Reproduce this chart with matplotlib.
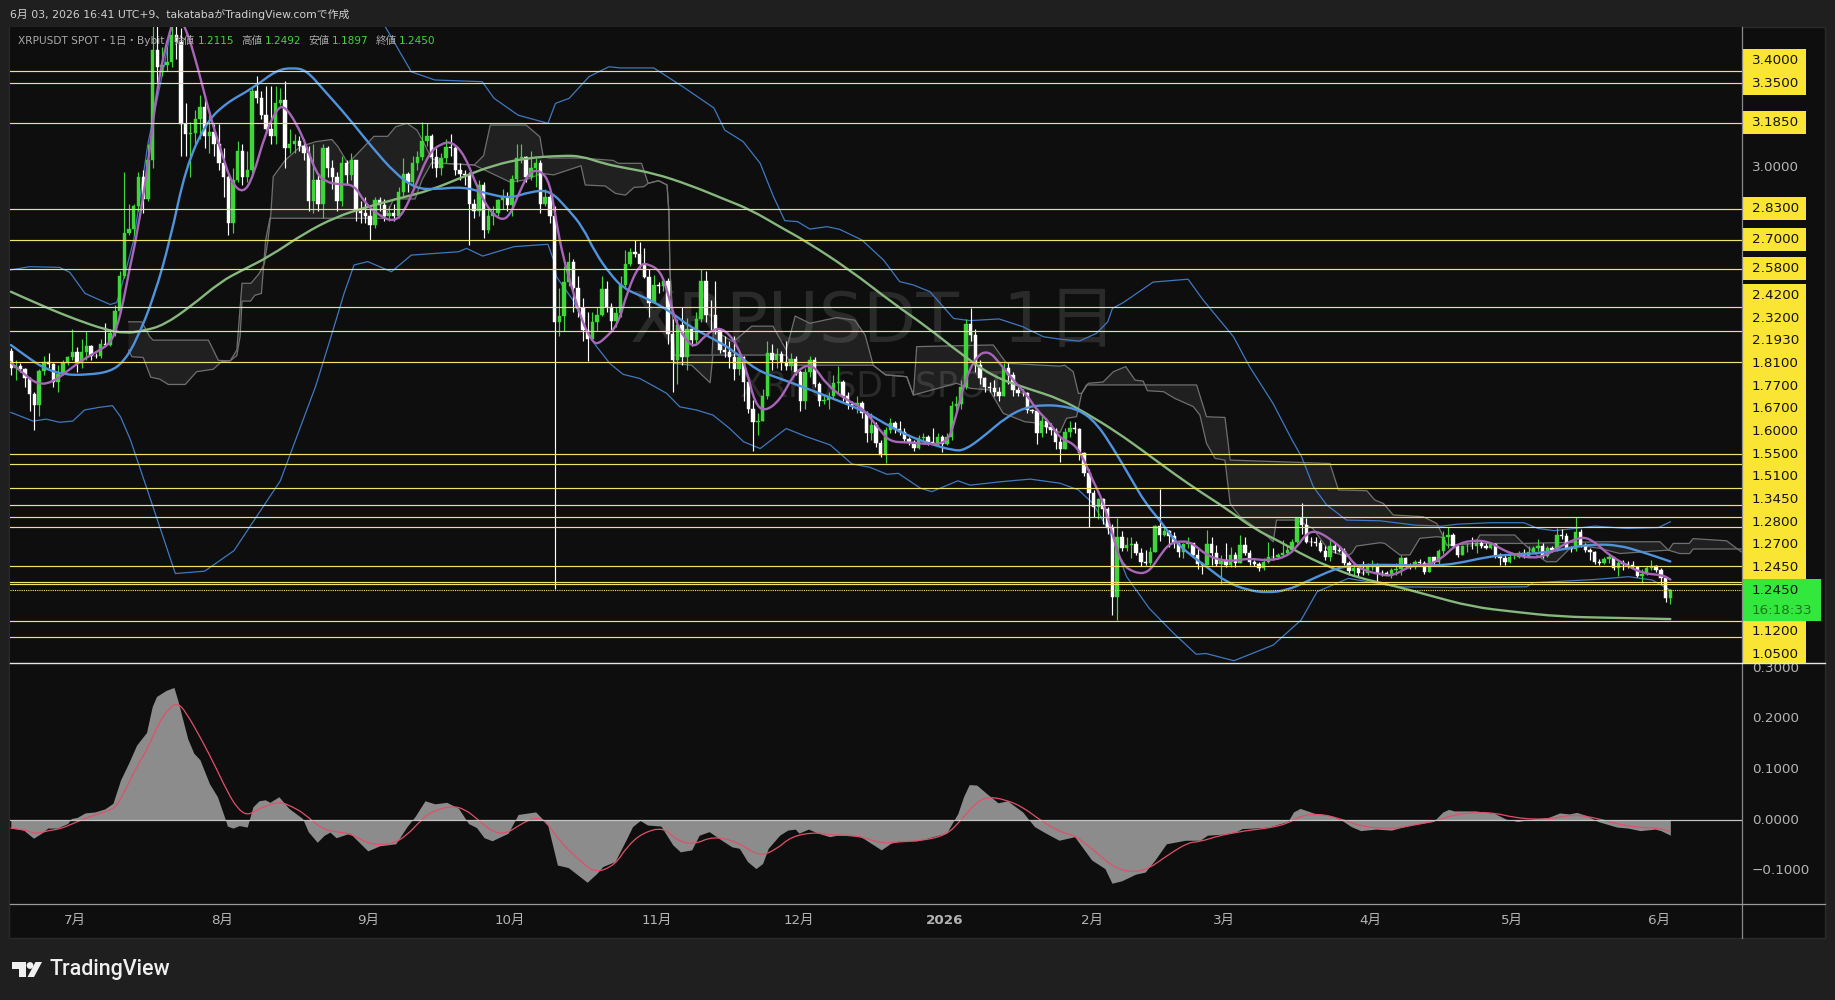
#!/usr/bin/env python3

import numpy as np
import matplotlib
matplotlib.use("Agg")
import matplotlib.pyplot as plt
from matplotlib.patches import Rectangle, Polygon, Circle, PathPatch
from matplotlib.path import Path

FONT = ["DejaVu Sans", "Noto Sans CJK JP"]
plt.rcParams["font.family"] = FONT

# daily candles, day 0 = 1 Jul 2025
first_day = -14
first_open = 2.24
closes = [
    2.17,2.175,2.165,2.125,2.06,2.015,2.155,2.195,2.185,2.11,2.145,2.19,2.215,2.235,
    2.19,2.235,2.26,2.22,2.218,2.27,2.265,2.315,2.405,2.55,2.73,2.745,2.84,2.96,2.87,3.03,3.49,3.42,3.425,3.44,3.55,3.52,3.18,3.14,3.145,3.20,3.25,3.13,3.15,3.10,3.02,
    2.96,2.77,2.95,3.07,2.96,2.99,3.32,3.29,3.22,3.16,3.13,3.27,3.28,3.08,3.10,3.11,3.09,3.06,2.86,2.95,2.85,3.08,3.00,2.96,2.86,3.02,2.97,3.03,2.82,2.81,2.80,
    2.76,2.865,2.845,2.80,2.81,2.80,2.90,2.975,2.94,3.02,3.045,3.11,3.13,3.045,2.997,3.04,3.087,3.08,2.99,2.975,2.97,2.85,2.82,2.93,2.74,2.80,2.81,2.865,2.88,2.845,
    2.955,3.04,3.045,2.96,3.00,3.02,2.85,2.88,2.80,2.36,2.384,2.527,2.61,2.50,2.416,2.326,2.29,2.36,2.39,2.495,2.42,2.365,2.395,2.513,2.60,2.648,2.641,2.60,2.548,2.44,2.513,
    2.51,2.53,2.31,2.20,2.346,2.215,2.33,2.285,2.37,2.53,2.39,2.388,2.325,2.245,2.236,2.212,2.163,2.215,2.11,2.0,1.945,1.95,2.05,2.23,2.2,2.226,2.195,2.175,2.204,2.153,
    2.03,2.15,2.20,2.10,2.03,2.035,2.05,2.105,2.11,2.05,2.02,2.015,2.025,1.98,1.897,1.93,1.856,1.807,1.91,1.938,1.917,1.904,1.873,1.862,1.835,1.876,1.88,1.862,1.858,1.883,1.853,
    1.883,2.012,2.02,2.09,2.353,2.305,2.18,2.125,2.09,2.085,2.07,2.05,2.167,2.14,2.077,2.066,2.063,1.994,1.99,1.897,1.948,1.925,1.91,1.86,1.83,1.904,1.918,1.913,1.814,1.731,1.648,
    1.592,1.623,1.581,1.51,1.219,1.468,1.42,1.433,1.436,1.399,1.364,1.357,1.405,1.512,1.475,1.49,1.47,1.44,1.406,1.436,1.44,1.392,1.354,1.35,1.436,1.399,1.354,1.371,
    1.35,1.392,1.357,1.433,1.399,1.364,1.354,1.34,1.364,1.385,1.382,1.392,1.399,1.412,1.447,1.544,1.516,1.447,1.445,1.44,1.41,1.382,1.429,1.412,1.41,1.357,1.325,1.336,1.318,1.317,1.343,
    1.35,1.318,1.316,1.314,1.33,1.335,1.378,1.346,1.344,1.364,1.36,1.322,1.382,1.361,1.41,1.468,1.475,1.429,1.392,1.429,1.43,1.428,1.443,1.429,1.423,1.437,1.392,1.378,1.364,1.382,
    1.385,1.401,1.385,1.405,1.419,1.429,1.387,1.423,1.412,1.475,1.47,1.422,1.415,1.489,1.433,1.412,1.405,1.364,1.357,1.374,1.382,1.336,1.357,1.355,1.35,1.343,1.306,1.313,1.336,1.346,1.329,
    1.295,1.2115,1.245,
]
highs = [
    2.25,2.20,2.19,2.17,2.13,2.07,2.165,2.22,2.23,2.19,2.18,2.20,2.22,2.33,
    2.255,2.29,2.32,2.265,2.23,2.29,2.355,2.33,2.43,2.57,2.98,2.85,2.85,2.98,2.99,3.10,3.60,3.67,3.50,3.50,3.62,3.62,3.58,3.27,3.19,3.24,3.30,3.29,3.22,3.18,3.18,
    3.08,2.97,3.00,3.11,3.10,3.07,3.33,3.38,3.32,3.34,3.34,3.34,3.33,3.36,3.16,3.14,3.13,3.12,3.09,3.10,2.97,3.10,3.09,3.03,2.98,3.05,3.03,3.06,3.03,2.86,2.88,
    2.83,2.88,2.88,2.87,2.84,2.85,2.92,3.04,2.98,3.05,3.07,3.19,3.185,3.14,3.08,3.06,3.12,3.14,3.09,3.02,2.99,2.98,2.87,2.95,2.94,2.83,2.84,2.87,2.91,2.90,
    2.97,3.10,3.10,3.05,3.07,3.04,3.03,2.91,2.89,2.84,2.50,2.59,2.65,2.62,2.55,2.46,2.40,2.40,2.42,2.55,2.53,2.44,2.42,2.55,2.66,2.665,2.70,2.69,2.665,2.58,2.555,
    2.525,2.535,2.54,2.37,2.37,2.42,2.375,2.34,2.40,2.58,2.57,2.45,2.53,2.33,2.30,2.28,2.30,2.23,2.22,2.11,2.035,1.98,2.08,2.28,2.27,2.25,2.24,2.28,2.23,2.22,
    2.16,2.17,2.22,2.215,2.11,2.06,2.07,2.14,2.176,2.12,2.07,2.03,2.05,2.03,1.99,1.98,1.945,1.87,1.925,1.96,1.95,1.95,1.92,1.88,1.87,1.89,1.90,1.89,1.92,1.90,1.89,
    1.90,2.03,2.05,2.12,2.37,2.416,2.33,2.20,2.13,2.11,2.12,2.09,2.19,2.19,2.15,2.09,2.08,2.07,2.0,2.0,1.97,1.96,1.94,1.92,1.88,1.92,1.95,1.945,1.92,1.82,1.75,
    1.66,1.63,1.63,1.59,1.52,1.544,1.49,1.468,1.468,1.45,1.42,1.412,1.426,1.516,1.668,1.516,1.495,1.488,1.44,1.443,1.465,1.44,1.42,1.364,1.495,1.468,1.433,1.392,
    1.44,1.426,1.405,1.475,1.468,1.412,1.37,1.364,1.38,1.447,1.42,1.40,1.454,1.43,1.46,1.55,1.606,1.544,1.468,1.468,1.454,1.43,1.457,1.44,1.433,1.42,1.365,1.36,1.345,1.368,1.36,
    1.37,1.36,1.33,1.325,1.34,1.36,1.39,1.385,1.36,1.37,1.375,1.365,1.385,1.385,1.415,1.49,1.51,1.485,1.435,1.435,1.44,1.465,1.45,1.455,1.44,1.445,1.44,1.40,1.39,1.39,
    1.40,1.41,1.415,1.43,1.43,1.46,1.44,1.43,1.43,1.505,1.50,1.485,1.43,1.551,1.50,1.44,1.42,1.41,1.375,1.385,1.39,1.385,1.365,1.37,1.365,1.365,1.345,1.335,1.345,1.37,1.35,
    1.34,1.30,1.2492,
]
lows = [
    2.14,2.12,2.15,2.09,1.99,1.91,1.97,2.14,2.17,2.09,2.07,2.14,2.18,2.20,
    2.15,2.17,2.20,2.20,2.21,2.21,2.26,2.26,2.30,2.39,2.54,2.72,2.72,2.82,2.81,2.86,3.00,3.35,3.38,3.40,3.42,3.45,3.05,3.05,2.96,3.10,3.12,3.08,3.06,3.05,2.99,
    2.88,2.72,2.73,2.94,2.93,2.94,2.96,3.27,3.20,3.14,3.10,3.10,3.26,3.00,3.06,3.06,3.07,3.03,2.82,2.81,2.82,2.79,2.96,2.91,2.82,2.84,2.93,2.95,2.78,2.77,2.77,
    2.70,2.75,2.82,2.78,2.78,2.78,2.79,2.88,2.90,2.92,2.99,3.03,3.09,3.0,2.96,2.97,3.02,3.05,2.97,2.95,2.93,2.68,2.79,2.80,2.71,2.73,2.76,2.80,2.83,2.82,
    2.80,2.94,3.02,2.94,2.95,2.92,2.81,2.84,2.77,1.25,2.30,2.32,2.51,2.40,2.38,2.28,2.198,2.28,2.32,2.385,2.40,2.325,2.34,2.38,2.50,2.59,2.63,2.585,2.54,2.38,2.44,
    2.48,2.49,2.27,2.07,2.10,2.18,2.16,2.26,2.27,2.36,2.36,2.325,2.31,2.23,2.215,2.17,2.12,2.14,2.03,1.98,1.825,1.89,1.95,2.04,2.16,2.17,2.16,2.16,2.16,2.14,
    1.99,2.0,2.13,2.09,2.01,2.02,2.0,2.04,2.06,2.03,2.0,2.0,1.98,1.96,1.86,1.87,1.84,1.80,1.772,1.90,1.90,1.89,1.86,1.85,1.825,1.83,1.86,1.85,1.85,1.85,1.82,
    1.85,1.87,1.99,2.0,2.08,2.28,2.15,2.10,2.07,2.07,2.05,2.03,2.05,2.10,2.05,2.05,2.05,1.98,1.98,1.853,1.88,1.90,1.89,1.83,1.78,1.83,1.88,1.90,1.785,1.72,1.51,
    1.55,1.54,1.52,1.48,1.143,1.122,1.41,1.41,1.378,1.39,1.346,1.35,1.35,1.405,1.45,1.47,1.426,1.42,1.385,1.378,1.42,1.385,1.335,1.315,1.35,1.35,1.345,1.271,
    1.343,1.343,1.343,1.357,1.39,1.35,1.345,1.326,1.33,1.36,1.37,1.375,1.385,1.39,1.405,1.44,1.48,1.44,1.43,1.43,1.405,1.373,1.365,1.40,1.405,1.35,1.31,1.31,1.30,1.31,1.31,
    1.33,1.285,1.305,1.31,1.295,1.31,1.31,1.338,1.335,1.335,1.345,1.315,1.32,1.355,1.355,1.395,1.42,1.42,1.385,1.39,1.405,1.415,1.40,1.42,1.415,1.415,1.38,1.35,1.35,1.36,
    1.375,1.38,1.38,1.385,1.40,1.41,1.38,1.385,1.405,1.41,1.46,1.415,1.405,1.41,1.425,1.405,1.37,1.355,1.35,1.355,1.36,1.33,1.304,1.33,1.34,1.335,1.30,1.274,1.31,1.33,1.32,
    1.27,1.195,1.1897,
]

# horizontal levels and their price labels
levels = [3.40,3.35,3.185,2.83,2.70,2.58,2.42,2.32,2.193,1.81,1.77,1.67,1.60,1.55,1.51,1.345,1.28,1.27,1.12,1.05]
level_labels = ["3.4000","3.3500","3.1850","2.8300","2.7000","2.5800","2.4200","2.3200","2.1930","1.8100","1.7700",
                "1.6700","1.6000","1.5500","1.5100","1.3450","1.2800","1.2700","1.2450","1.1200","1.0500"]

# short average
fast_days = [-14.2,-11.4,-8.2,-5,-2.2,1,4.2,7,8.4,9.8,11.2,12.6,15,17,19.7,21,23,25.5,28,30.6,32.7,35.2,37.2,39.8,42.3,43.9,46.4,48.6,50.6,52.7,55.6,58.6,61,64,66.9,69,71.5,74.4,77,79.4,82,84,86.6,89.5,91.6,93.7,95.8,97.9,100,101.4,102.8,104.6,106.7,108.8,109.9,111.6,114.4,116.5,119,121,123.5,125,126.7,128.8,130.6,132.7,135,137,139.5,141.6,143.4,145.5,148.7,151.5,154,156,158.5,162.8,166.3,169.8,172,175.5,179,184,185.7,187.8,190.3,192.8,195.2,198,200.9,203,205.8,207.9,210.8,212.7,214.8,216.9,219,220.8,223.6,226.5,228.9,231,234,236,238.8,242.3,245,247.9,252,255.8,258,260,262,265,268,270.8,276,278.4,282.3,285.8,288.7,291.5,295,298.8,301.6,304.4,308,310.8,313.6,316.4,318.9,321.4,324,327.7,331.2,335.4,337]
fast_vals = [2.194,2.146,2.098,2.111,2.153,2.20,2.236,2.27,2.333,2.444,2.589,2.713,3.004,3.35,3.58,3.63,3.585,3.42,3.225,3.06,2.935,2.893,2.96,3.14,3.246,3.256,3.184,3.087,2.976,2.94,2.93,2.93,2.85,2.80,2.776,2.81,2.92,3.06,3.10,3.108,3.05,2.95,2.838,2.78,2.80,2.907,2.983,2.99,2.94,2.77,2.63,2.506,2.367,2.285,2.266,2.29,2.347,2.492,2.60,2.60,2.568,2.478,2.354,2.285,2.253,2.30,2.333,2.327,2.27,2.16,2.02,1.987,2.035,2.139,2.18,2.174,2.10,2.035,2.0,1.91,1.862,1.86,1.853,1.853,1.95,2.118,2.22,2.24,2.188,2.118,2.056,1.994,1.94,1.876,1.855,1.80,1.703,1.62,1.48,1.357,1.318,1.316,1.385,1.44,1.451,1.44,1.392,1.368,1.368,1.378,1.368,1.385,1.426,1.48,1.493,1.46,1.412,1.336,1.309,1.306,1.35,1.35,1.378,1.433,1.454,1.447,1.412,1.392,1.378,1.392,1.426,1.454,1.468,1.44,1.392,1.35,1.315,1.309,1.29]

# medium average
mid_days = [-14,-10.6,-7,-2.7,2.2,7,9.9,12.6,16.3,19.7,23,27.2,31.4,37.2,42.2,45.6,48.5,52.3,57.3,62.3,67.3,71.6,75.7,81.6,86.6,91.6,95.8,100,104,106.9,109.7,112.7,115.5,119,122.6,126,129.6,134.5,138.7,143.6,148.6,154.3,160,166,170.6,175.5,179.7,185.4,187.8,191.7,196.6,200.9,204.4,207.9,212,215.6,219,222.7,226,229,232.6,236,239.8,243,247.5,251.8,256,260,264.6,268,274,280,287,292,297.7,302.7,309.8,316.8,321,326,331,337]
mid_vals = [2.264,2.215,2.167,2.14,2.14,2.153,2.195,2.284,2.464,2.70,3.0,3.184,3.267,3.33,3.405,3.415,3.405,3.32,3.21,3.087,2.976,2.914,2.91,2.921,2.893,2.872,2.90,2.907,2.824,2.755,2.644,2.56,2.50,2.47,2.436,2.395,2.34,2.29,2.243,2.16,2.125,2.084,2.04,1.994,1.94,1.89,1.858,1.825,1.828,1.883,1.966,2.007,2.014,2.012,1.994,1.94,1.84,1.717,1.606,1.537,1.44,1.385,1.33,1.281,1.246,1.235,1.246,1.281,1.322,1.346,1.352,1.35,1.347,1.357,1.382,1.394,1.399,1.426,1.436,1.433,1.405,1.365]

# long average
slow_days = [-14,-7,0.1,5.8,10,14.2,18.4,24,30.4,35,40.6,48,54.8,61.5,68,74.9,81.6,88.2,95,102.5,106.7,111.2,115.5,122,129.6,136.8,142.6,148.6,154.3,163.5,172.6,179.7,186.8,193.8,200.9,207.9,213.5,219.8,226.2,231.9,237.5,243,249,254.5,260,265.7,271.4,278,285.7,295,304,313.6,325,337]
slow_vals = [2.485,2.423,2.367,2.329,2.312,2.323,2.347,2.423,2.527,2.575,2.63,2.727,2.796,2.838,2.872,2.907,2.962,3.011,3.04,3.05,3.048,3.018,3.0,2.977,2.928,2.87,2.824,2.755,2.693,2.575,2.437,2.34,2.229,2.132,2.084,2.04,1.98,1.904,1.814,1.731,1.655,1.586,1.50,1.447,1.385,1.336,1.295,1.267,1.226,1.177,1.156,1.136,1.131,1.126]

# bands around the average
upper_days = [-14.2,-10,-3.7,-1.5,1.7,4.9,7,8.4,9.8,12,15,18.4,19.7,30,55,65.2,70.7,75.7,85.7,88.2,93.3,99.6,101.2,104.1,108.3,112.5,114.9,122,128.6,134.7,137,140.9,144.5,147.3,149.7,152.4,155,158.6,161.3,166,170.6,174,176.9,180.4,185.4,188.9,195,200,204.4,208,212,215.6,218,219,221.3,227.6,235,238.2,244.6,248,253,257,259,261.5,264.3,268.5,275.6,283,288.7,292,299,306,309,312.5,316.8,321,327.7,334.5,337]
upper_vals = [2.575,2.589,2.586,2.565,2.478,2.45,2.432,2.44,2.534,2.70,3.1,3.42,3.558,4.4,4.2,3.585,3.398,3.364,3.357,3.288,3.218,3.184,3.267,3.288,3.378,3.419,3.414,3.414,3.33,3.248,3.156,3.108,3.018,2.88,2.78,2.776,2.745,2.755,2.744,2.70,2.616,2.527,2.513,2.485,2.374,2.365,2.372,2.34,2.298,2.288,2.28,2.312,2.36,2.416,2.44,2.525,2.537,2.45,2.298,2.174,2.02,1.869,1.80,1.675,1.60,1.537,1.534,1.516,1.512,1.52,1.526,1.526,1.502,1.493,1.502,1.512,1.502,1.506,1.53]
lower_days = [-14,-9.3,-6.5,-3.7,-0.9,1.6,4.7,7.5,9.2,11.3,14.6,20.8,27,33.2,43,50.5,53.5,56.5,58.6,61.5,66.5,70.7,80.7,82.4,85.8,92.4,99.6,100.8,101.4,104.9,108.4,109.9,112.7,115.5,119,122,124.7,127.5,131,134.5,138,141,144.5,150,154.3,159.3,163.9,167.7,171.3,173.7,178.4,180.8,186.3,188.9,195.3,201.6,207.9,211.8,214.9,218.5,222,226.8,232,236.7,238.8,244.7,253,258.9,262.3,268.9,279,291.5,306.6,308,320.8,328.2,333.2,337]
lower_vals = [1.984,1.948,1.956,1.943,1.948,1.994,2.005,2.012,1.966,1.87,1.678,1.315,1.325,1.41,1.70,2.094,2.284,2.479,2.596,2.61,2.568,2.637,2.651,2.665,2.633,2.672,2.682,2.616,2.547,2.45,2.30,2.257,2.187,2.142,2.125,2.093,2.063,2.007,1.994,1.973,1.918,1.862,1.834,1.917,1.883,1.849,1.77,1.756,1.727,1.731,1.669,1.655,1.70,1.682,1.696,1.707,1.69,1.662,1.606,1.482,1.302,1.17,1.066,0.98,0.983,0.953,1.018,1.122,1.24,1.295,1.26,1.257,1.26,1.277,1.29,1.302,1.288,1.246]

# cloud borders
kumo_a_days = [10.9,13.7,15.4,16.1,27.8,29.9,32.4,33.8,34.5,34.9,36.8,38.5,39.6,40.4,41,41.5,44,47.2,50.5,53.9,55.2,57.3,59.4,62.8,65.7,67.4,69.8,71.9,73.6,74.9,77.4,84,86,87.4,95,97.9,98.6,100,106.7,113.4,114.5,119.4,120.8,123,124.8,125.2,125.4,125.9,126.3,134.3,134.6,138.8,142.7,147.2,150,151.9,155,160.7,164.5,166.7,168.4,171,175.5,176.9,177.6,193.8,196.6,207.9,208.9,210.7,211.8,212.5,213.5,236.8,238.9,242.8,243.9,265,266.8,272.8,274.5,276.3,278.4,284.7,287.6,289,289.7,295.7,296.7,304.1,305.9,322,334.8,336.6,337.6,341,341.8,348.9,352]
kumo_a_vals = [2.36,2.36,2.298,2.284,2.284,2.20,2.198,2.243,2.42,2.52,2.52,2.56,2.60,2.70,2.81,2.963,3.03,3.087,3.108,3.117,3.087,3.018,3.06,3.13,3.13,3.17,3.184,3.156,3.094,3.04,3.018,3.011,3.05,3.177,3.177,3.128,3.045,3.04,3.04,3.03,3.018,3.018,2.935,2.946,2.928,2.81,2.575,2.41,2.222,2.222,2.326,2.277,2.342,2.342,2.243,2.384,2.354,2.378,2.367,2.305,2.18,2.14,2.132,2.056,2.257,2.264,2.188,2.176,2.18,2.153,2.063,2.063,2.098,2.098,1.966,1.963,1.786,1.772,1.662,1.659,1.62,1.606,1.558,1.551,1.523,1.468,1.433,1.44,1.475,1.475,1.44,1.447,1.447,1.412,1.44,1.44,1.46,1.451,1.405]
kumo_b_days = [10.9,11.6,14,15.6,17.5,19.3,22.9,25.3,28.8,30.6,32.4,33.8,34.5,34.9,36.7,37.6,39,39.9,40.8,61.5,65,67,71.5,73,75,77.4,84,91.6,95,98.3,100.8,106.6,107.5,111.7,113.9,116,117.8,119.9,120.8,123,124.8,125.2,125.4,125.9,126.3,130,133.9,134.5,150,151,168.4,171,175.5,176.9,186,188.9,193,195.9,200.5,203,207.9,209.3,211.4,212.5,213.9,217,219.2,221.8,223.8,225.5,226.4,229.8,232.2,236.1,237.5,238.9,240.7,242.8,243.9,244.6,246,249.5,252,253,253.7,258,261.4,264.8,268.5,269.6,270.6,275.6,276.6,279.8,281.9,284,287.6,289,289.7,295.7,305.9,308.7,310.8,312.9,315.8,317.2,322,326.3,334.8,336.6,339,341.1,341.8,352]
kumo_b_vals = [2.243,2.215,2.212,2.13,2.122,2.10,2.10,2.153,2.163,2.195,2.198,2.22,2.30,2.446,2.446,2.47,2.478,2.70,2.79,2.79,2.79,2.87,2.87,2.95,3.02,3.018,3.011,2.94,2.95,2.976,2.97,3.008,2.928,2.924,2.893,2.886,2.918,2.921,2.935,2.946,2.928,2.81,2.575,2.41,2.187,2.18,2.107,2.222,2.222,2.18,2.18,2.14,2.132,2.056,2.105,2.084,2.077,1.98,1.945,1.94,1.90,1.96,1.966,2.063,2.105,2.11,2.153,2.174,2.118,2.114,2.074,2.07,2.042,2.008,1.973,1.855,1.793,1.786,1.606,1.586,1.551,1.502,1.465,1.447,1.537,1.537,1.502,1.41,1.385,1.399,1.429,1.443,1.44,1.392,1.392,1.461,1.468,1.465,1.433,1.44,1.44,1.392,1.364,1.364,1.42,1.433,1.42,1.398,1.41,1.412,1.398,1.398,1.417,1.417]

# oscillator and its signal
osc_days = [-14,-11.3,-9.2,-7.5,-6.2,-4.2,-2,-1.2,0,1.7,3.8,5.9,7.6,9.2,10.9,12.6,14.7,15.9,16.8,18.8,20.5,21.3,23.4,24.7,26,28,29.7,31.4,31.8,33,34.3,36,37.2,38.5,39.8,40.8,42.7,44.8,47.7,48.9,50.8,52.3,53.5,54.8,57.7,61.5,64,67.4,69.8,71.5,73.6,75.7,78.2,80.7,82.8,84.5,86.1,87.8,91.2,93.3,97,99.5,101.6,103.9,107.9,110,111.2,113.8,116.3,117.5,119.1,120.7,123.5,126,127.6,130,131.6,133.7,135.7,138.5,140.1,141.8,143.6,145,146.2,148.6,150.3,151.9,152.7,154.7,156.7,159.2,160.8,165.6,170.1,172.1,173.7,177.8,181,183.9,186.3,187.5,188.7,190.3,192.3,194.8,196.8,200,202.5,204.9,207.7,211,214.6,217.4,218.9,221,223.9,225.9,228,230.4,234.4,237.5,239.1,242.4,245.2,246.4,248.8,252,256.1,257.3,258.7,261.8,265,267.4,269.5,271.5,274.7,278,282,286.9,288.9,290.1,291.3,295.8,299.8,302.2,304.7,308.7,311.2,313.6,315.6,317.2,319.2,321.7,325.7,328.1,330.6,333.8,335,337]
osc_vals = [-.016,-.02,-.036,-.026,-.016,-.016,-.007,.003,.005,.014,.016,.022,.033,.079,.112,.148,.173,.224,.244,.256,.262,.237,.161,.132,.119,.072,.046,0,-.012,-.016,-.011,-.014,.026,.038,.04,.035,.046,.023,.003,-.023,-.044,-.03,-.024,-.035,-.026,-.061,-.051,-.047,-.013,.007,.038,.032,.035,.023,-.007,-.015,-.035,-.041,-.026,.011,.016,-.008,-.089,-.094,-.123,-.105,-.092,-.082,-.036,-.013,-.001,-.01,-.012,-.049,-.063,-.059,-.03,-.023,-.036,-.053,-.056,-.082,-.096,-.086,-.056,-.03,-.02,-.018,-.026,-.018,-.026,-.033,-.03,-.032,-.059,-.046,-.042,-.041,-.033,-.026,.013,.046,.07,.069,.053,.034,.038,.016,-.013,-.026,-.04,-.033,-.079,-.096,-.125,-.12,-.107,-.103,-.079,-.047,-.04,-.04,-.03,-.028,-.023,-.017,-.016,-.014,-.003,.016,.023,.013,.009,0,-.013,-.021,-.018,-.02,-.01,-.003,.016,.021,.018,.018,.013,.002,-.003,.003,.005,.014,.012,.015,.009,-.003,-.014,-.016,-.021,-.018,-.021,-.03]
signal_days = [-14,-11.3,-8.7,-6.2,-3.7,-.8,2.6,7.6,9.2,12.6,15,17.2,19.7,21.3,23,26.4,29.3,31.8,33.9,36,38,40.6,43,45.6,48,51.5,54.8,57.7,61.5,64,67,69.8,72.8,74.9,79,82,84.9,87.8,90.7,94,97,99,102.4,106.6,109.6,113.8,116.3,119.5,124,126.8,130.4,134.5,139.7,144.2,147.8,151,155.9,159.2,164.8,170.5,173.7,178.6,183.9,187,190.3,192.8,196.4,200,204.1,208.5,211,215,219.9,225.5,231.2,235.2,237.5,241.5,245.6,248,252,256.1,258.5,261.8,266.6,271.5,278,282.8,287.7,291,295.8,299.8,303.9,308.7,312,316.8,321.7,325.7,330.6,334.6,337]
signal_vals = [-.016,-.018,-.028,-.021,-.018,-.007,.007,.02,.04,.105,.142,.191,.224,.231,.214,.158,.105,.056,.023,.009,.02,.03,.036,.026,.013,-.016,-.024,-.026,-.046,-.049,-.046,-.03,0,.016,.028,.022,0,-.023,-.028,-.007,.005,0,-.046,-.082,-.105,-.089,-.053,-.026,-.014,-.04,-.049,-.032,-.043,-.072,-.059,-.033,-.024,-.03,-.03,-.047,-.043,-.041,-.03,0,.036,.046,.04,.026,-.003,-.026,-.03,-.059,-.099,-.104,-.066,-.044,-.043,-.031,-.024,-.02,-.016,-.007,.007,.013,.005,-.013,-.018,-.01,-.001,.01,.015,.014,.005,.001,.003,.011,.003,-.008,-.015,-.016,-.023]

month_days = [0,31,62,92,123,153,184,215,243,274,304,335]
month_labels = ["7月","8月","9月","10月","11月","12月","2026","2月","3月","4月","5月","6月"]
price_ticks = [3.0]
osc_ticks = [0.3,0.2,0.1,0.0,-0.1]
countdown = "16:18:33"

BG = "#1f1f1f"
PANE = "#0e0e0e"
UP = "#3fd63a"
DOWN = "#ffffff"
LEVEL = "#f4e36a"
GREY_TEXT = "#b4b4b4"

days = np.arange(len(closes)) + first_day
opens = np.array([first_open] + closes[:-1])
closes = np.array(closes)
highs = np.array(highs)
lows = np.array(lows)
up = closes >= opens
colors = [UP if u else DOWN for u in up]

fig = plt.figure(figsize=(18.35, 10), dpi=100, facecolor=BG)
W, H = 1835.0, 1000.0
xlim = (-14.28, 352.07)


def pane(left, top, right, bottom):
    return fig.add_axes([left / W, 1 - bottom / H, (right - left) / W, (bottom - top) / H])


def curve(axes, xs, ys, **kw):
    # rounded line: each reading is a quadratic control point
    pts = np.column_stack([xs, ys])
    verts = [pts[0]]
    codes = [Path.MOVETO]
    for i in range(1, len(pts) - 1):
        verts += [pts[i], (pts[i] + pts[i + 1]) / 2]
        codes += [Path.CURVE3, Path.CURVE3]
    verts.append(pts[-1])
    codes.append(Path.LINETO)
    axes.add_patch(PathPatch(Path(verts, codes), fill=False, capstyle="round", **kw))


# chrome behind the panes
back = fig.add_axes([0, 0, 1, 1], zorder=0)
back.set_xlim(0, W)
back.set_ylim(H, 0)
back.axis("off")
back.add_patch(Rectangle((9, 27), 1816, 911, facecolor=PANE, edgecolor="#2a2a2a", lw=1))

ax = pane(9.5, 27, 1741.6, 663)
ax.set_zorder(1)
ax.set_facecolor(PANE)
ax.set_xlim(*xlim)
ax.set_ylim(0.9436, 3.584)

ax.text(0.4985, 0.535, "XRPUSDT, 1日", transform=ax.transAxes, ha="center", va="center",
        fontsize=50, color="#2a2a2a", zorder=0)
ax.text(0.4985, 0.4355, "XRPUSDT SPOT", transform=ax.transAxes, ha="center", va="center",
        fontsize=25, color="#2a2a2a", zorder=0)

# cloud
ax.fill(np.r_[kumo_a_days, kumo_b_days[::-1]], np.r_[kumo_a_vals, kumo_b_vals[::-1]],
        facecolor="#ffffff", alpha=0.08, edgecolor="none", zorder=1)
ax.plot(kumo_a_days, kumo_a_vals, color="#6f6f6f", lw=0.9, zorder=1.5)
ax.plot(kumo_b_days, kumo_b_vals, color="#6f6f6f", lw=0.9, zorder=1.5)

ax.plot(upper_days, upper_vals, color="#3f78c0", lw=0.9, zorder=2)
ax.plot(lower_days, lower_vals, color="#3f78c0", lw=0.9, zorder=2)

# candles
ax.vlines(days, lows, highs, colors=colors, lw=0.85, zorder=3)
ax.bar(days, np.abs(closes - opens), bottom=np.minimum(opens, closes), width=0.72,
       color=colors, edgecolor=colors, lw=0.3, zorder=3.2)

curve(ax, slow_days, slow_vals, edgecolor="#86b77c", lw=1.7, zorder=4)
curve(ax, mid_days, mid_vals, edgecolor="#4f93dd", lw=1.7, zorder=4.1)
curve(ax, fast_days, fast_vals, edgecolor="#a866b8", lw=1.7, zorder=4.2)

for lv in levels:
    ax.axhline(lv, color=LEVEL, lw=0.85, zorder=5)
ax.axhline(closes[-1], color=LEVEL, lw=0.8, ls=(0, (1, 1)), zorder=5)

ax.set_xticks([])
ax.yaxis.tick_right()
ax.set_yticks(price_ticks)
ax.set_yticklabels(["%.4f" % t for t in price_ticks], va="center")
ax.tick_params(axis="y", length=0, pad=7.5, labelsize=9.7, labelcolor=GREY_TEXT)
for s in ax.spines.values():
    s.set_visible(False)

# oscillator
ax2 = pane(9.5, 663, 1741.6, 904)
ax2.set_zorder(1)
ax2.set_facecolor(PANE)
ax2.set_xlim(*xlim)
ax2.set_ylim(-0.166, 0.3103)
ax2.fill_between(osc_days, osc_vals, 0, color="#8c8c8c", lw=0)
ax2.axhline(0, color="#c4c4c4", lw=0.9)
curve(ax2, signal_days, signal_vals, edgecolor="#e0506c", lw=0.9)
ax2.yaxis.tick_right()
ax2.set_yticks(osc_ticks)
ax2.set_yticklabels(["%.4f" % t if t >= 0 else "\u2212%.4f" % abs(t) for t in osc_ticks], va="center")
ax2.tick_params(axis="y", length=0, pad=7.5, labelsize=9.7, labelcolor=GREY_TEXT)
ax2.set_xticks([d - 0.4 for d in month_days])
ax2.set_xticklabels(month_labels)
ax2.tick_params(axis="x", length=0, pad=7, labelsize=9.7, labelcolor=GREY_TEXT)
for lab in ax2.get_xticklabels():
    if lab.get_text() == "2026":
        lab.set_fontweight("bold")
for s in ax2.spines.values():
    s.set_visible(False)

# overlay in figure pixels: price labels, separators, captions
ov = fig.add_axes([0, 0, 1, 1], zorder=5)
ov.set_xlim(0, W)
ov.set_ylim(H, 0)
ov.axis("off")
ov.patch.set_alpha(0)

ov.plot([1741.6, 1741.6], [27, 938], color="#8a8a8a", lw=0.9)
ov.plot([9.5, 1825], [663, 663], color="#e6e6e6", lw=1.0)
ov.plot([9.5, 1825], [904, 904], color="#9a9a9a", lw=0.9)

for top, bot in [(49, 95), (111, 134), (197, 220), (228, 251), (257, 280), (284, 663)]:
    ov.add_patch(Rectangle((1742, top), 64, bot - top, facecolor="#fbe534", edgecolor="none"))
label_y = [60.3, 83.3, 122.3, 208.3, 239.3, 268.3, 295.3, 318.3, 341, 363.3, 386.3, 408.7, 431.3, 454.3, 476.7,
           499.7, 522.7, 544.7, 567.7, 631.7, 654.3]
for txt, y in zip(level_labels, label_y):
    ov.text(1752, y, txt, fontsize=9.7, color="#141414", va="center", ha="left")

ov.add_patch(Rectangle((1742, 579.3), 79, 41.4, facecolor="#33e83c", edgecolor="none"))
ov.text(1752, 590.7, "%.4f" % closes[-1], fontsize=9.7, color="#141414", va="center", ha="left")
ov.text(1752, 610, countdown, fontsize=9.7, color="#137a1c", va="center", ha="left")

ov.text(10, 14, "6月 03, 2026 16:41 UTC+9、takatabaがTradingView.comで作成", fontsize=7.8,
        color="#d0d0d0", va="center", ha="left")

ov.text(17.8, 41, "XRPUSDT SPOT・1日・Bybit", fontsize=7.6, color="#a8a8a8", va="center", ha="left")
for name, value, x_name, x_val in [("始値", opens[-1], 173, 198), ("高値", highs[-1], 241, 265),
                                   ("安値", lows[-1], 308, 332), ("終値", closes[-1], 375.6, 399)]:
    ov.text(x_name, 41, name, fontsize=7.6, color="#a8a8a8", va="center", ha="left")
    ov.text(x_val, 41, "%.4f" % value, fontsize=7.6, color=UP, va="center", ha="left")

# TradingView mark
logo = "#f0f0f0"
ov.add_patch(Polygon([(12, 962), (26, 962), (26, 977), (19, 977), (19, 969), (12, 969)], facecolor=logo, edgecolor="none"))
ov.add_patch(Circle((30, 965.5), 3.4, facecolor=logo, edgecolor="none"))
ov.add_patch(Polygon([(35.5, 962), (42, 962), (34, 977), (27.5, 977)], facecolor=logo, edgecolor="none"))
ov.text(49, 969.5, "TradingView", family="Roboto", fontweight="medium", fontsize=15.5, color=logo, va="center", ha="left")

fig.savefig("out.png", dpi=100, facecolor=BG)
plt.close(fig)
